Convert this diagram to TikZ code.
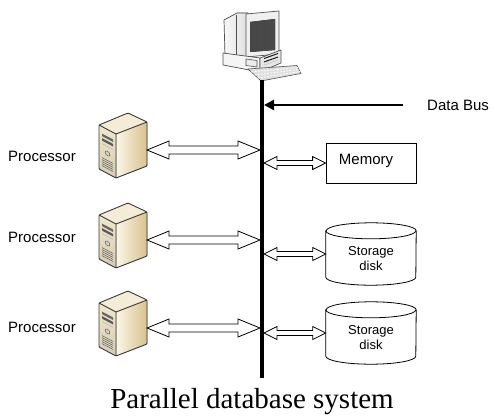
\documentclass[tikz,border=0pt]{standalone}
\usepackage{fontspec}
\setmainfont{Liberation Sans}
\newfontfamily\capfont{Liberation Serif}
\usetikzlibrary{arrows.meta,calc}

\definecolor{srvlight}{HTML}{FBF6E8}
\definecolor{srvdark}{HTML}{D8C28E}
\definecolor{srvfront}{HTML}{F1E7CB}
\definecolor{srvtop}{HTML}{F4ECD6}
\definecolor{srvline}{HTML}{3A3A3A}
\definecolor{pcline}{HTML}{505050}
\definecolor{pcscreen}{HTML}{4A4A4A}

\tikzset{
  lbl/.style={font=\fontsize{15}{17}\selectfont, inner sep=0pt},
  smalllbl/.style={font=\fontsize{13}{15}\selectfont, inner sep=0pt, align=center},
  membox/.style={draw=black, line width=0.8pt, minimum width=90pt, minimum height=40pt, inner sep=0pt},
  diskbox/.style={minimum width=90pt, minimum height=62pt, inner sep=0pt},
  diskline/.style={draw=black, line width=0.8pt, fill=white},
  bus/.style={line width=4.5pt},
  databus/.style={line width=2.5pt, -{Triangle[length=10pt,width=10pt]}},
  % outlined double arrow between two points on the same height:
  % #1 head length, #2 head half-width, #3 shaft half-width
  hollow arrow/.style n args={3}{draw=black, fill=white, line width=0.8pt, line join=miter,
    to path={let \p1=(\tikztostart), \p2=(\tikztotarget) in
      (\x1,\y1) -- (\x1+#1,\y1+#2) -- (\x1+#1,\y1+#3) -- (\x2-#1,\y1+#3)
      -- (\x2-#1,\y1+#2) -- (\x2,\y1) -- (\x2-#1,\y1-#2) -- (\x2-#1,\y1-#3)
      -- (\x1+#1,\y1-#3) -- (\x1+#1,\y1-#2) -- cycle}},
  bigarrow/.style={hollow arrow={22pt}{9pt}{4pt}},
  smallarrow/.style={hollow arrow={13pt}{6.5pt}{2.5pt}},
  srvedge/.style={draw=srvline, line width=0.9pt, line join=round},
  % tower server, origin at the middle of its right edge
  server/.pic={
    \fill[left color=srvlight, right color=srvdark]
      (-30,-16) -- (1,-28) -- (1,16) -- (-30,28) -- cycle;
    \fill[top color=srvfront, bottom color=srvfront!88!black]
      (-47,-25) -- (-30,-16) -- (-30,28) -- (-47,19) -- cycle;
    \fill[srvtop] (-47,-25) -- (-18,-37) -- (1,-28) -- (-30,-16) -- cycle;
    \begin{scope}[shift={(-47,-25)}, yslant=-0.53]
      \fill[gray!80!black] (3,7) rectangle (14,9.5);
      \fill[gray!70!black] (3,11.5) rectangle (14,14);
      \draw[gray!60, line width=0.5pt] (3,17) -- (14,17);
      \draw[gray!70!black, line width=0.5pt, fill=srvfront!80!gray] (8.5,24) circle[radius=2.3pt];
      \foreach \v in {31,33,35,37,39}
        \draw[gray!75!black, line width=0.5pt] (3,\v) -- (14,\v);
    \end{scope}
    \draw[srvedge, rounded corners=1pt]
      (-47,-25) -- (-18,-37) -- (1,-28) -- (1,16) -- (-30,28) -- (-47,19) -- cycle;
    \draw[srvedge] (-47,-25) -- (-30,-16) -- (1,-28) (-30,-16) -- (-30,28);
    \coordinate (-port) at (1,0);
  }
}

\begin{document}
\begin{tikzpicture}[x=1pt,y=-1pt]
\useasboundingbox (0,0) rectangle (494,417);

% ---- workstation on top of the bus ----
\node[inner sep=0pt, minimum width=80pt, minimum height=70pt] (pc) at (261,46) {};
% monitor housing
\filldraw[draw=pcline, line width=0.7pt, left color=gray!5, right color=gray!25, line join=round]
  (224,20) -- (237,13) -- (248,13) -- (248,57) -- (225,55) -- cycle;
\draw[pcline, line width=0.5pt] (236,15) -- (236,56);
% monitor front
\filldraw[draw=pcline, line width=0.7pt, fill=gray!12, line join=round]
  (246,14) -- (279,11) -- (279,54) -- (246,57) -- cycle;
\fill[left color=gray!55!black, right color=pcscreen] (250,22) -- (275,19) -- (275,50) -- (250,52) -- cycle;
% system unit
\filldraw[draw=pcline, line width=0.7pt, fill=gray!8, line join=round]
  (223,53) -- (260,58) -- (260,72) -- (223,65) -- cycle;
\filldraw[draw=pcline, line width=0.7pt, fill=gray!20, line join=round]
  (260,58) -- (281,50) -- (281,63) -- (260,72) -- cycle;
\draw[pcline, line width=0.6pt, fill=gray!15] (246,59) -- (257,60.5) -- (257,67) -- (246,65.5) -- cycle;
\draw[gray!20!black, line width=1pt] (264,58.5) -- (278,53.5) (264,62) -- (278,57);
\draw[gray!50, line width=0.5pt] (264,65) -- (278,60);
% keyboard
\filldraw[draw=pcline, line width=0.6pt, fill=gray!25, line join=round]
  (248,69) -- (297,65.5) -- (301,73.5) -- (261,81) -- cycle;
\foreach \t in {0.25,0.5,0.75}
  \draw[white, line width=0.8pt, dash pattern=on 2pt off 1.2pt]
    ($(248,69)!\t!(261,81)$) -- ($(297,65.5)!\t!(301,73.5)$);

% ---- data bus ----
\coordinate (bustop) at (262,80);
\coordinate (busbot) at (262,378);
\draw[bus] (bustop) -- (busbot);

\node[lbl, anchor=west] (dblabel) at (427,105) {Data Bus};
\coordinate (dbhit) at (264,105);
\draw[databus] ([xshift=-24pt]dblabel.west) -- (dbhit);

% ---- processors ----
\node[lbl] (proc1) at (42,156) {Processor};
\node[lbl] (proc2) at (42,237) {Processor};
\node[lbl] (proc3) at (42,327) {Processor};

\pic (srv1) at (146,150) {server};
\pic (srv2) at (146,240) {server};
\pic (srv3) at (146,328) {server};

\coordinate (bl1) at (260,150);
\coordinate (bl2) at (260,240);
\coordinate (bl3) at (260,328);
\draw[bigarrow] (srv1-port) to (bl1);
\draw[bigarrow] (srv2-port) to (bl2);
\draw[bigarrow] (srv3-port) to (bl3);

% ---- memory and disks ----
\node[membox] (mem) at (371,163) {};
\node[lbl] (memtxt) at (366,161) {Memory};

\node[diskbox] (disk1) at (371,254) {};
\node[diskbox] (disk2) at (371,333) {};
\foreach \d in {disk1,disk2}{
  \draw[diskline] ([yshift=-8pt]\d.north west) -- ([yshift=8pt]\d.south west)
    arc[start angle=180, end angle=360, x radius=45pt, y radius=8pt]
    -- ([yshift=-8pt]\d.north east)
    arc[start angle=0, end angle=180, x radius=45pt, y radius=8pt] -- cycle;
  \draw[diskline, fill=none] ([yshift=-8pt]\d.north west)
    arc[start angle=180, end angle=360, x radius=45pt, y radius=8pt];
}
\node[smalllbl] (disk1txt) at ([yshift=-5pt]disk1.center) {Storage\\disk};
\node[smalllbl] (disk2txt) at ([yshift=-5pt]disk2.center) {Storage\\disk};

\coordinate (br1) at (264,163);
\coordinate (br2) at (264,254);
\coordinate (br3) at (264,333);
\draw[smallarrow] (br1) to (mem.west);
\draw[smallarrow] (br2) to (disk1.west);
\draw[smallarrow] (br3) to (disk2.west);

% ---- caption ----
\node[font=\capfont\fontsize{29}{32}\selectfont, inner sep=0pt, anchor=base] (caption) at (252,408)
  {Parallel database system};
\end{tikzpicture}
\end{document}
